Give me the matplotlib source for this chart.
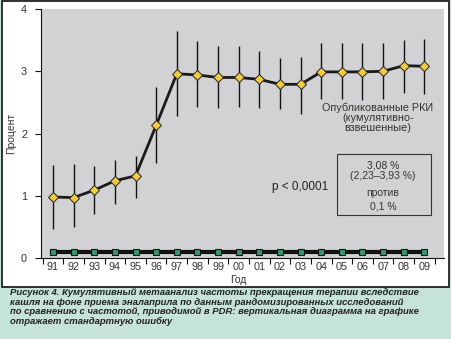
import matplotlib.pyplot as plt
from matplotlib.patches import Rectangle

plt.rcParams['font.family'] = ['Liberation Sans', 'DejaVu Sans']

years = ['91', '92', '93', '94', '95', '96', '97', '98', '99', '00',
         '01', '02', '03', '04', '05', '06', '07', '08', '09']
rki = [0.98, 0.97, 1.09, 1.24, 1.32, 2.13, 2.96, 2.94, 2.90, 2.90,
       2.87, 2.79, 2.79, 2.99, 2.99, 2.99, 3.00, 3.09, 3.08]
rki_hi = [1.49, 1.51, 1.47, 1.57, 1.64, 2.74, 3.64, 3.48, 3.40, 3.40,
          3.32, 3.21, 3.23, 3.46, 3.45, 3.45, 3.45, 3.51, 3.52]
rki_lo = [0.47, 0.50, 0.71, 0.87, 0.96, 1.53, 2.28, 2.43, 2.41, 2.42,
          2.41, 2.40, 2.32, 2.56, 2.55, 2.54, 2.55, 2.65, 2.64]
pdr = [0.1] * len(years)

caption = ('Рисунок 4. Кумулятивный метаанализ частоты прекращения терапии вследствие\n'
           'кашля на фоне приема эналаприла по данным рандомизированных исследований\n'
           'по сравнению с частотой, приводимой в PDR: вертикальная диаграмма на графике\n'
           'отражает стандартную ошибку')

fig = plt.figure(figsize=(4.52, 3.39), dpi=100)
fig.patch.set_facecolor('#c6e3d7')

# white panel with black frame behind the chart
fig.patches.append(Rectangle((2 / 452, 52 / 339), 447 / 452, 286 / 339,
                             transform=fig.transFigure, facecolor='white',
                             edgecolor='#111111', linewidth=1.2, zorder=-10))

ax = fig.add_axes([41 / 452, 81 / 339, 403 / 452, 249 / 339])
ax.set_zorder(1)
ax.set_facecolor('#d2d2d4')

x = list(range(len(years)))
err_lo = [v - l for v, l in zip(rki, rki_lo)]
err_hi = [h - v for v, h in zip(rki, rki_hi)]

ax.errorbar(x, rki, yerr=[err_lo, err_hi], fmt='none', ecolor='#111111',
            elinewidth=1.0, capsize=0, zorder=2)
ax.plot(x, rki, color='#1a1a1a', linewidth=2, zorder=3)
ax.plot(x, rki, linestyle='none', marker='D', markersize=4.6,
        markerfacecolor='#f2cc3a', markeredgecolor='#222222',
        markeredgewidth=0.7, zorder=4)

ax.plot(x, pdr, color='#111111', linewidth=3, zorder=3)
ax.plot(x, pdr, linestyle='none', marker='s', markersize=4.6,
        markerfacecolor='#2f9a70', markeredgecolor='#111111',
        markeredgewidth=0.8, zorder=4)

ax.set_xlim(-0.58, 18.95)
ax.set_ylim(0, 4)
ax.set_yticks([0, 1, 2, 3, 4])
ax.set_xticks([i - 0.5 for i in range(len(years) + 1)])
ax.set_xticklabels([])
ax.set_xticks(x, minor=True)
ax.set_xticklabels(years, minor=True)
ax.tick_params(axis='x', which='major', length=4, width=0.8, color='#111111')
ax.tick_params(axis='x', which='minor', length=0, labelsize=7.8,
               labelcolor='#333333', pad=3)
ax.tick_params(axis='y', length=4, width=0.8, color='#111111',
               labelsize=7.8, labelcolor='#333333', pad=6)

for side in ['top', 'right']:
    ax.spines[side].set_visible(False)
for side in ['left', 'bottom']:
    ax.spines[side].set_color('#111111')
    ax.spines[side].set_linewidth(0.8)

ax.set_ylabel('Процент', fontsize=7.5, color='#333333')
ax.yaxis.set_label_coords(-0.062, 0.5)
ax.set_xlabel('Год', fontsize=7.5, color='#333333')
ax.xaxis.set_label_coords(0.49, -0.068)

ax.text(15.75, 2.49, 'Опубликованные РКИ\n(кумулятивно-\nвзвешенные)',
        ha='center', va='top', fontsize=7.8, color='#333333', linespacing=1.0)
ax.text(12.0, 1.14, 'p < 0,0001', ha='center', va='center',
        fontsize=8.5, color='#222222')

ax.add_patch(Rectangle((13.75, 0.69), 4.55, 0.98, facecolor='none',
                       edgecolor='#333333', linewidth=0.8, zorder=5))
ax.text(16.0, 1.49, '3,08 %', ha='center', va='center', fontsize=7.5, color='#333333')
ax.text(16.0, 1.32, '(2,23–3,93 %)', ha='center', va='center', fontsize=7.5, color='#333333')
ax.text(16.0, 1.05, 'против', ha='center', va='center', fontsize=7.5, color='#333333')
ax.text(16.0, 0.82, '0,1 %', ha='center', va='center', fontsize=7.5, color='#333333')

fig.text(10 / 452, 1 - 288 / 339, caption, ha='left', va='top',
         fontsize=6.8, fontweight='bold', fontstyle='italic',
         family=['Liberation Sans Narrow', 'Liberation Sans', 'DejaVu Sans'],
         color='#222222', linespacing=1.1)

fig.savefig('out.png', dpi=100, facecolor=fig.get_facecolor())
